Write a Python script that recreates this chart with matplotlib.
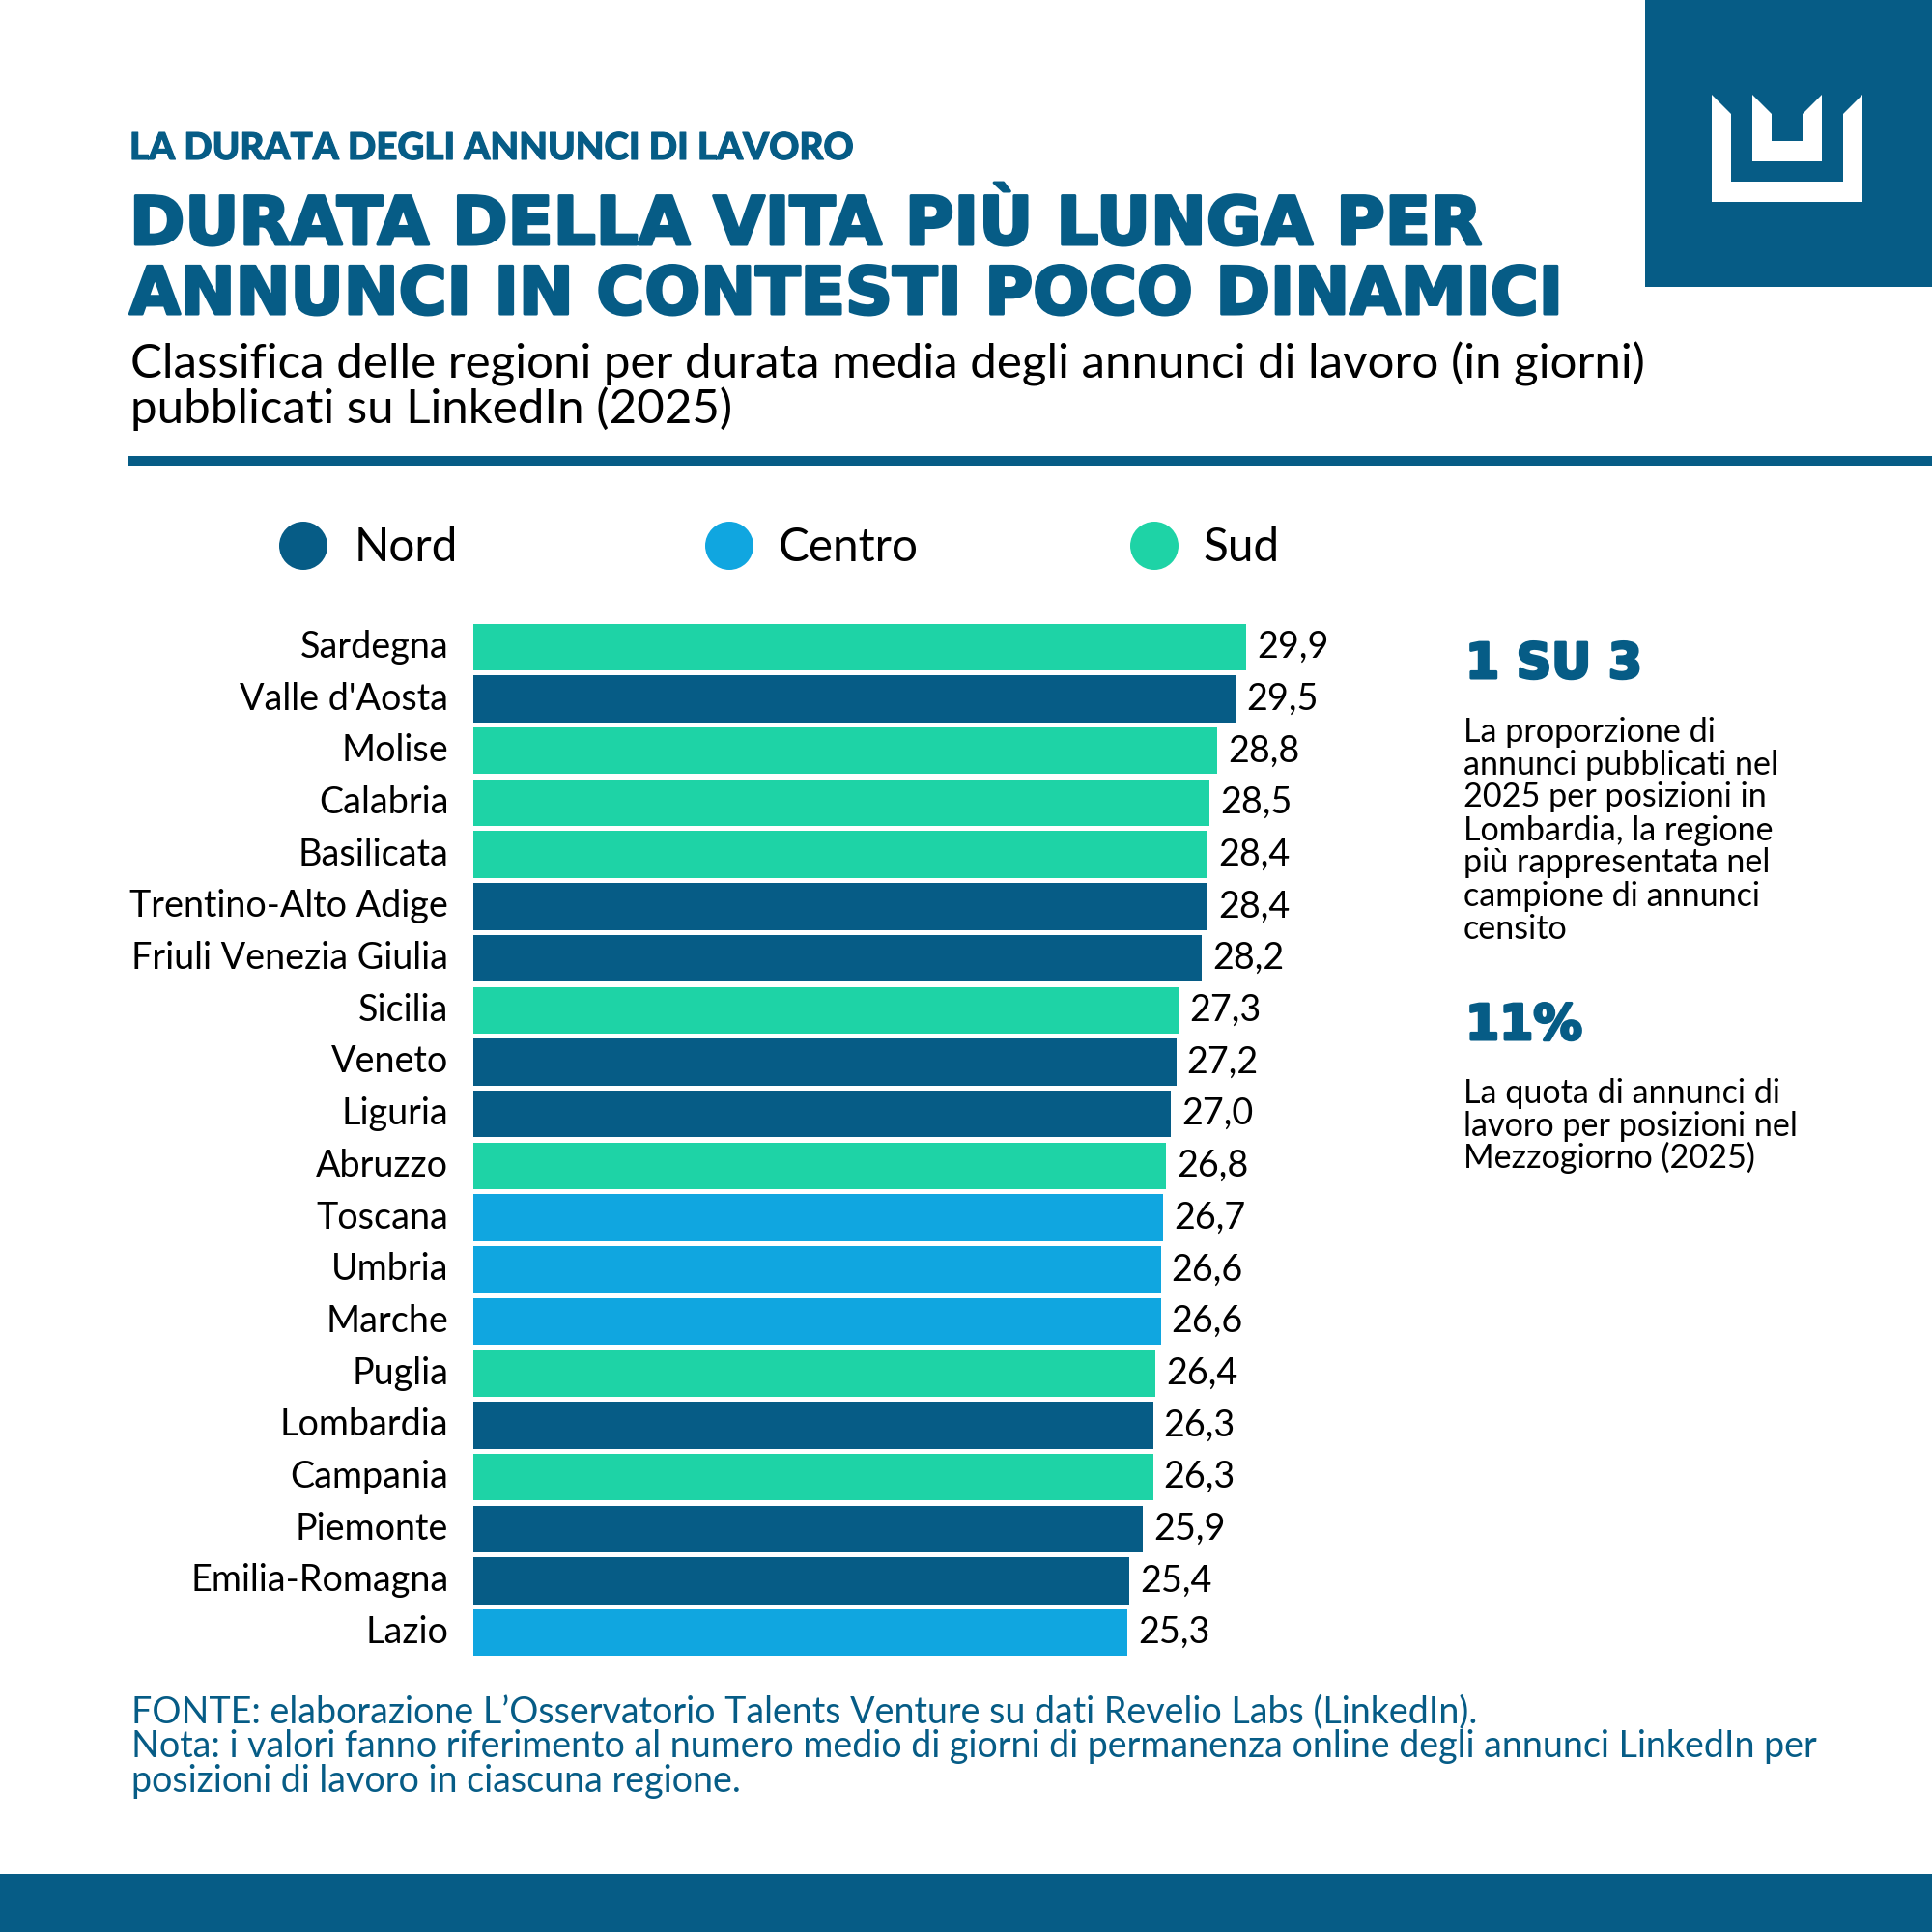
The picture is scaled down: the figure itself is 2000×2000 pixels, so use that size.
import matplotlib
matplotlib.use("Agg")
import matplotlib.pyplot as plt
from matplotlib.transforms import Affine2D
from matplotlib.patches import Rectangle, Circle, Polygon
from matplotlib import font_manager
import matplotlib.patheffects as pe

# ---------------- data ----------------
regions = ["Sardegna", "Valle d'Aosta", "Molise", "Calabria", "Basilicata",
           "Trentino-Alto Adige", "Friuli Venezia Giulia", "Sicilia", "Veneto",
           "Liguria", "Abruzzo", "Toscana", "Umbria", "Marche", "Puglia",
           "Lombardia", "Campania", "Piemonte", "Emilia-Romagna", "Lazio"]
values = [29.9, 29.5, 28.8, 28.5, 28.4, 28.4, 28.2, 27.3, 27.2, 27.0,
          26.8, 26.7, 26.6, 26.6, 26.4, 26.3, 26.3, 25.9, 25.4, 25.3]
areas = ["Sud", "Nord", "Sud", "Sud", "Sud", "Nord", "Nord", "Sud", "Nord",
         "Nord", "Sud", "Centro", "Centro", "Centro", "Sud", "Nord", "Sud",
         "Nord", "Nord", "Centro"]
legend_labels = ["Nord", "Centro", "Sud"]

kicker = "LA DURATA DEGLI ANNUNCI DI LAVORO"
title_lines = ["DURATA DELLA VITA PIÙ LUNGA PER",
               "ANNUNCI IN CONTESTI POCO DINAMICI"]
subtitle_lines = ["Classifica delle regioni per durata media degli annunci di lavoro (in giorni)",
                  "pubblicati su LinkedIn (2025)"]
stat1 = "1 SU 3"
stat1_lines = ["La proporzione di", "annunci pubblicati nel", "2025 per posizioni in",
               "Lombardia, la regione", "più rappresentata nel",
               "campione di annunci", "censito"]
stat2 = "11%"
stat2_lines = ["La quota di annunci di", "lavoro per posizioni nel",
               "Mezzogiorno (2025)"]
footer_lines = ["FONTE: elaborazione L\u2019Osservatorio Talents Venture su dati Revelio Labs (LinkedIn).",
                "Nota: i valori fanno riferimento al numero medio di giorni di permanenza online degli annunci LinkedIn per",
                "posizioni di lavoro in ciascuna regione."]

# ---------------- style ----------------
NAVY = "#065C86"
COLORS = {"Nord": "#065C86", "Centro": "#10A6E0", "Sud": "#1ED3A6"}

names = {f.name for f in font_manager.fontManager.ttflist}
BODY = "Lato" if "Lato" in names else "DejaVu Sans"
HEAVY = "DejaVu Sans"

W = H = 2000
fig = plt.figure(figsize=(20, 20), dpi=100)
fig.patch.set_facecolor("white")
P = Affine2D().scale(1 / W, -1 / H).translate(0, 1) + fig.transFigure
renderer = fig.canvas.get_renderer()
THICK = [pe.withStroke(linewidth=2.2, foreground=NAVY)]


def ptext(x, y, s, size=20, family=BODY, weight="normal", color="black", ha="left", va="baseline"):
    return fig.text(x, y, s, transform=P, fontsize=size, family=family,
                    fontweight=weight, color=color, ha=ha, va=va)


def fit(t, target):
    w = t.get_window_extent(renderer).width
    t.set_fontsize(t.get_fontsize() * target / w)
    return t.get_fontsize()


# ---------------- decorations ----------------
fig.add_artist(Rectangle((1703, 0), 297, 297, transform=P, color=NAVY, lw=0))
outer = [(1772, 98), (1792, 118), (1792, 188), (1908, 188), (1908, 118),
         (1928, 98), (1928, 209), (1772, 209)]
inner = [(1814, 98), (1834, 118), (1834, 146), (1866, 146), (1866, 118),
         (1886, 98), (1886, 167), (1814, 167)]
for poly in (outer, inner):
    fig.add_artist(Polygon(poly, closed=True, transform=P, color="white", lw=0))
fig.add_artist(Rectangle((133, 472), 2000 - 133, 10, transform=P, color=NAVY, lw=0))
fig.add_artist(Rectangle((0, 1940), 2000, 60, transform=P, color=NAVY, lw=0))

# ---------------- header texts ----------------
t = ptext(134, 165, kicker, 24, weight="black", color=NAVY)
fit(t, 749)
t.set_path_effects([pe.withStroke(linewidth=0.8, foreground=NAVY)])

t1 = ptext(134, 253, title_lines[0], 40, family=HEAVY, weight="bold", color=NAVY)
t2 = ptext(134, 325, title_lines[1], 40, family=HEAVY, weight="bold", color=NAVY)
fs1 = fit(t1, 1400)
fs2 = fit(t2, 1483)
t1.set_path_effects(THICK)
t2.set_path_effects(THICK)

s1 = ptext(135, 392, subtitle_lines[0], 30)
fs = fit(s1, 1568)
ptext(135, 438, subtitle_lines[1], fs)

# ---------------- legend ----------------
leg_cx = [314, 755, 1195]
leg_tx = [367, 806, 1245]
tmp = ptext(0, 0, "Centro", 36)
fsl = fit(tmp, 145)
tmp.remove()
for lab, cx, tx in zip(legend_labels, leg_cx, leg_tx):
    fig.add_artist(Circle((cx, 565), 25, transform=P, color=COLORS[lab], lw=0))
    ptext(tx, 581, lab, fsl)

# ---------------- bar chart ----------------
tmp = ptext(0, 0, "Trentino-Alto Adige", 27)
fs_lab = fit(tmp, 331)
tmp.remove()

ax = fig.add_axes([490 / W, 1 - 1717 / H, 1070 / W, 1074 / H])
ypos = list(range(len(regions)))
ax.barh(ypos, values, height=0.9, color=[COLORS[a] for a in areas], lw=0)
ax.set_xlim(0, 40)
ax.set_ylim(len(regions) - 0.5, -0.5)
ax.set_yticks(ypos)
ax.set_yticklabels(regions, fontsize=fs_lab, family=BODY)
for lbl in ax.get_yticklabels():
    lbl.set_verticalalignment("center")
ax.tick_params(axis="y", length=0, pad=18.5)
ax.set_xticks([])
for sp in ax.spines.values():
    sp.set_visible(False)
for yv, v in zip(ypos, values):
    ax.annotate(f"{v:.1f}".replace(".", ","), (v, yv), xytext=(8, 0),
                textcoords="offset points", ha="left", va="center",
                fontsize=fs_lab, family=BODY)

# ---------------- right panel ----------------
h1 = ptext(1517, 702, stat1, 30, family=HEAVY, weight="bold", color=NAVY)
fit(h1, 183)
h1.set_path_effects(THICK)
tmp = ptext(0, 0, stat1_lines[1], 20)
fs_p = fit(tmp, 328)
tmp.remove()
base = [768, 802, 835, 870, 903, 938, 972]
for ln, b in zip(stat1_lines, base):
    ptext(1515, b, ln, fs_p)
h2 = ptext(1517, 1076, stat2, 30, family=HEAVY, weight="bold", color=NAVY)
h2.set_fontsize(h1.get_fontsize())
h2.set_path_effects(THICK)
for ln, b in zip(stat2_lines, [1142, 1176, 1209]):
    ptext(1515, b, ln, fs_p)

# ---------------- footer ----------------
f2 = ptext(136, 1819, footer_lines[1], 24, color=NAVY)
fs_f = fit(f2, 1745)
ptext(136, 1783, footer_lines[0], fs_f, color=NAVY)
ptext(136, 1855, footer_lines[2], fs_f, color=NAVY)

fig.savefig("out.png", dpi=100, facecolor="white")
